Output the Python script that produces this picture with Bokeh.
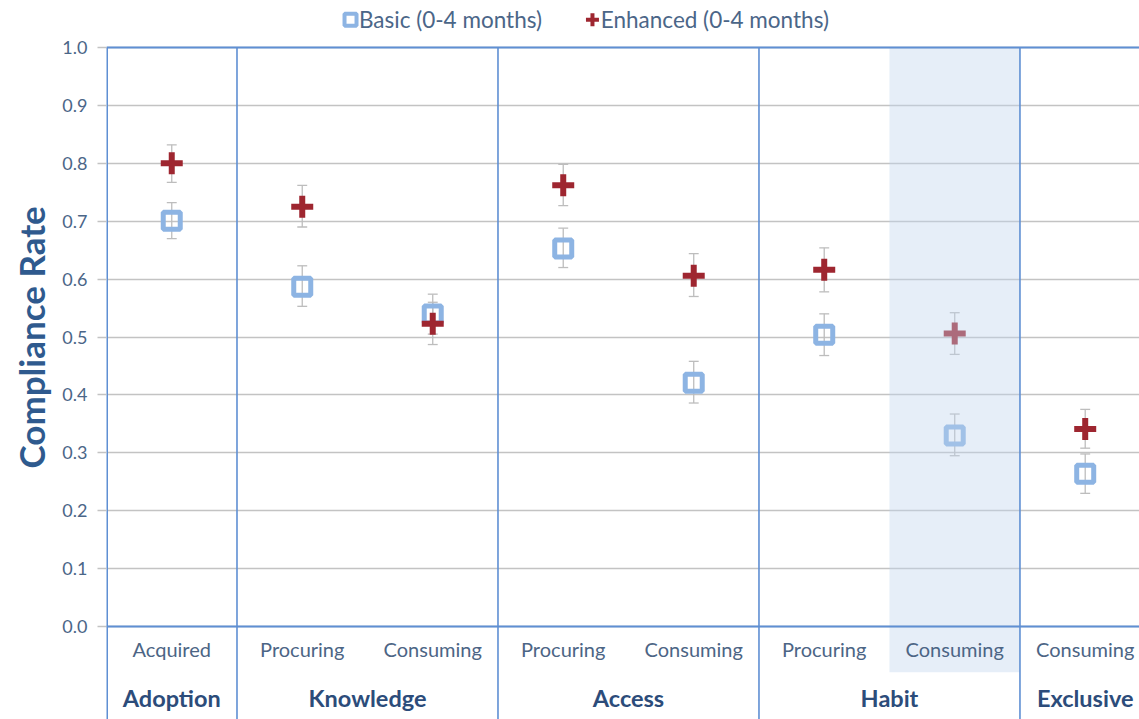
from bokeh.plotting import figure
from bokeh.models import Range1d, FixedTicker, Span, Title, CustomJSTickFormatter
from bokeh.core.properties import value
from bokeh.embed import file_html
from bokeh.resources import INLINE

# ---- data -----------------------------------------------------------------
categories = ["Acquired", "Procuring", "Consuming", "Procuring", "Consuming",
              "Procuring", "Consuming", "Consuming"]
groups = ["Adoption", "Knowledge", "Access", "Habit", "Exclusive"]
group_sizes = [1, 2, 2, 2, 1]

basic = [0.701, 0.587, 0.539, 0.653, 0.421, 0.504, 0.330, 0.264]
basic_lo = [0.670, 0.553, 0.505, 0.620, 0.386, 0.468, 0.295, 0.230]
basic_hi = [0.732, 0.623, 0.574, 0.688, 0.458, 0.540, 0.367, 0.298]

enhanced = [0.800, 0.725, 0.523, 0.762, 0.606, 0.616, 0.506, 0.341]
enhanced_lo = [0.767, 0.690, 0.487, 0.727, 0.570, 0.578, 0.470, 0.308]
enhanced_hi = [0.832, 0.762, 0.560, 0.798, 0.644, 0.654, 0.542, 0.375]

y_ticks = [0.0, 0.1, 0.2, 0.3, 0.4, 0.5, 0.6, 0.7, 0.8, 0.9, 1.0]
highlight = 6  # Habit / Consuming column is shaded

series_names = ["Basic (0-4 months)", "Enhanced (0-4 months)"]
y_title = "Compliance Rate"

# ---- styling ----------------------------------------------------------------
FONT = "Lato"
BLUE_LINE = "#5f8fd3"
GRID = "#c3c3c3"
SQ_COLOR = "#8db4e3"
PLUS_COLOR = "#9e2630"
ERR_COLOR = "#bdbdbd"
TICK_TEXT = "#4b6688"
CAT_TEXT = "#4c6585"
GROUP_TEXT = "#2c4c7a"

Y_BOTTOM, Y_TOP = -0.1606, 1.0812
xs = [i + 0.5 for i in range(len(categories))]

p = figure(width=1139, height=719, output_backend="svg", toolbar_location=None,
           x_range=Range1d(0, 7.916), y_range=Range1d(Y_BOTTOM, Y_TOP),
           min_border_left=106, min_border_right=0, min_border_top=0,
           min_border_bottom=0, outline_line_color=None)
p.background_fill_color = "white"
p.border_fill_color = "white"

p.xaxis.visible = False
p.xgrid.visible = False

p.yaxis.ticker = FixedTicker(ticks=y_ticks)
p.yaxis.formatter = CustomJSTickFormatter(code="return tick.toFixed(1);")
p.yaxis.axis_line_color = None
p.yaxis.major_tick_in = 0
p.yaxis.major_tick_out = 9
p.yaxis.major_tick_line_color = GRID
p.yaxis.major_tick_line_width = 1.5
p.yaxis.minor_tick_line_color = None
p.yaxis.major_label_standoff = 10
p.yaxis.major_label_text_font = FONT
p.yaxis.major_label_text_font_size = "18px"
p.yaxis.major_label_text_color = TICK_TEXT

p.ygrid.ticker = FixedTicker(ticks=y_ticks)
p.ygrid.grid_line_color = GRID
p.ygrid.grid_line_width = 1.5

# axis title as a side title, placed so it centres on the 0..1 scale
p.add_layout(Title(text=y_title, align="left", offset=251, standoff=15,
                   text_font=FONT, text_font_size="35px", text_font_style="bold",
                   text_color="#2f5a8e"), "left")

# error bars (behind markers)
cap = 0.038
for lo, hi in ((basic_lo, basic_hi), (enhanced_lo, enhanced_hi)):
    p.segment(x0=xs, x1=xs, y0=lo, y1=hi, line_color=ERR_COLOR, line_width=1.3)
    for ends in (lo, hi):
        p.segment(x0=[x - cap for x in xs], x1=[x + cap for x in xs], y0=ends, y1=ends,
                  line_color=ERR_COLOR, line_width=1.3)

# markers
p.scatter(x=xs, y=basic, marker="square", size=17, fill_color=None,
          line_color=SQ_COLOR, line_width=5)
p.scatter(x=xs, y=enhanced, marker="cross", size=22, line_color=PLUS_COLOR, line_width=6)

# shaded column (drawn over the markers so they appear faded)
p.quad(left=[highlight], right=[highlight + 1], bottom=[-0.079], top=[1.0],
       fill_color="#c0d4ed", fill_alpha=0.4, line_color=None)

# frame lines
p.add_layout(Span(location=1.0, dimension="width", line_color=BLUE_LINE, line_width=2))
p.add_layout(Span(location=0.0, dimension="width", line_color=BLUE_LINE, line_width=2))
p.segment(x0=[0], x1=[0], y0=[Y_BOTTOM], y1=[1.0], line_color=BLUE_LINE, line_width=3)

# group separators
edges = []
acc = 0
for n in group_sizes[:-1]:
    acc += n
    edges.append(acc)
p.segment(x0=edges, x1=edges, y0=[Y_BOTTOM] * len(edges), y1=[1.0] * len(edges),
          line_color=BLUE_LINE, line_width=1.6)

# category and group labels
p.text(x=xs, y=[-0.0395] * len(xs), text=categories, text_font=value(FONT),
       text_font_size="20px", text_color=CAT_TEXT, text_align="center",
       text_baseline="middle")
gx = []
acc = 0
for n in group_sizes:
    gx.append(acc + n / 2)
    acc += n
p.text(x=gx, y=[-0.124] * len(gx), text=groups, text_font=value(FONT),
       text_font_size="23.5px", text_font_style="bold", text_color=GROUP_TEXT,
       text_align="center", text_baseline="middle")

# legend
p.scatter(x=[1.870], y=[1.048], marker="square", size=12, fill_color=None,
          line_color=SQ_COLOR, line_width=4)
p.text(x=[1.935], y=[1.048], text=[series_names[0]], text_font=value(FONT),
       text_font_size="22.5px", text_color=TICK_TEXT, text_baseline="middle")
p.scatter(x=[3.724], y=[1.048], marker="cross", size=13, line_color=PLUS_COLOR,
          line_width=4)
p.text(x=[3.788], y=[1.048], text=[series_names[1]], text_font=value(FONT),
       text_font_size="22.5px", text_color=TICK_TEXT, text_baseline="middle")

open("out.html", "w").write(file_html(p, INLINE))
